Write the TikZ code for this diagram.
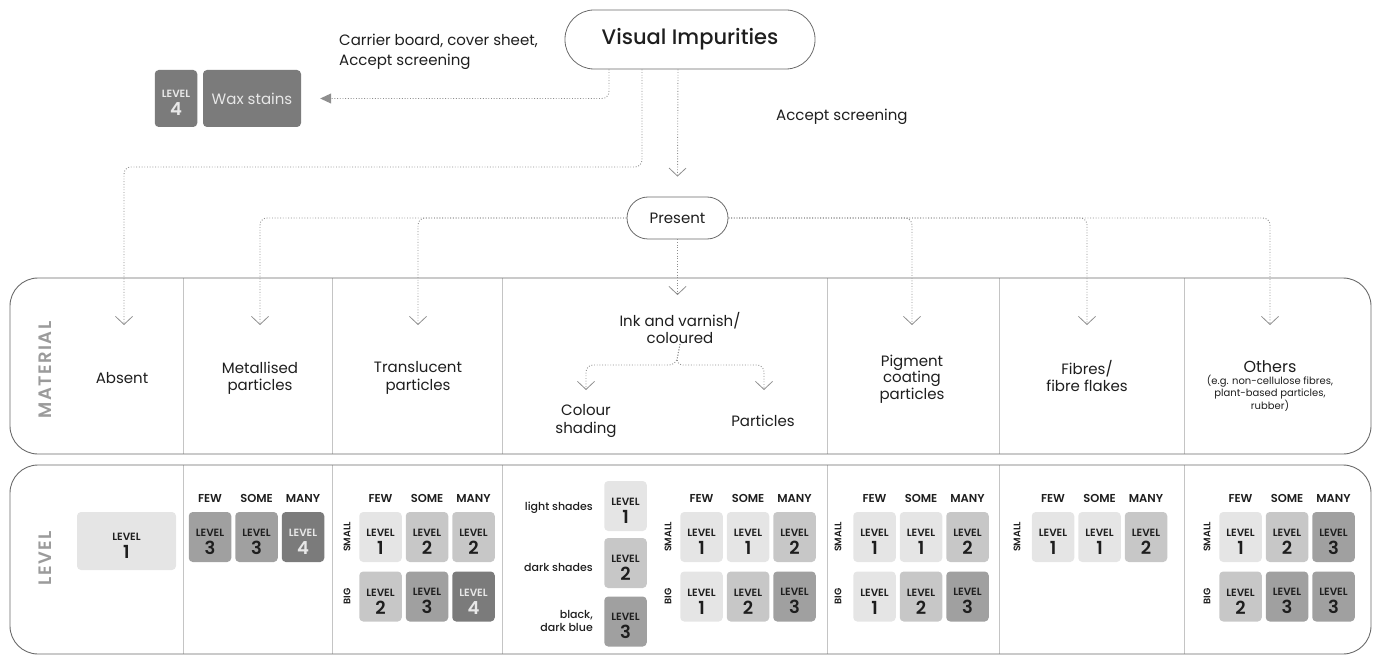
\documentclass[tikz,border=0pt]{standalone}
\usepackage{fontspec}
\setmainfont{Poppins}
\newfontfamily\medfont{Poppins Medium}
\newfontfamily\semifont{Poppins SemiBold}
\usetikzlibrary{arrows.meta}
\tikzset{>=latex}

\definecolor{ink}{HTML}{1E1E1E}
\definecolor{lvc1}{HTML}{E5E5E5}
\definecolor{lvc2}{HTML}{C7C7C7}
\definecolor{lvc3}{HTML}{A0A0A0}
\definecolor{lvc4}{HTML}{7B7B7B}
\definecolor{lvt1}{HTML}{1E1E1E}
\definecolor{lvt2}{HTML}{1E1E1E}
\definecolor{lvt3}{HTML}{1E1E1E}
\definecolor{lvt4}{HTML}{E8E8E8}
\definecolor{dots}{HTML}{8E8E8E}
\definecolor{frame}{HTML}{6A6A6A}
\definecolor{rule}{HTML}{C4C4C4}
\definecolor{tag}{HTML}{9B9B9B}

\newcommand{\lvtext}[1]{{\semifont\fontsize{10.5}{11}\selectfont\rule{0pt}{17pt}LEVEL}\\{\semifont\fontsize{18}{18}\selectfont #1}}
% one row of level boxes: name, first x, y, values
\newcommand{\lvrow}[4]{\foreach \v [count=\i] in {#4}
  \node[lvl=\v] (#1\i) at ({#2+46.5*(\i-1)},#3) {\lvtext{\v}};}
% few / some / many over a grid
\newcommand{\hdrow}[2]{\foreach \w [count=\i] in {FEW,SOME,MANY}
  \node[hd] (#1h\i) at ({#2+46.5*(\i-1)},498) {\w};}

\tikzset{
  lbl/.style={text=ink, align=center, inner sep=0pt, font=\fontsize{15}{17.5}\selectfont},
  pill/.style={lbl, draw=frame, line width=0.8pt},
  lvbox/.style={rounded corners=4pt, minimum width=42.5pt, minimum height=50pt, inner sep=0pt, align=center, font=\medfont\fontsize{15.5}{18}\selectfont},
  lvl/.style={lvbox, fill=lvc#1, text=lvt#1},
  hd/.style={text=ink, inner sep=0pt, font=\semifont\fontsize{11.5}{12}\selectfont},
  side/.style={hd, rotate=90, font=\semifont\fontsize{9.5}{9.5}\selectfont},
  tagtxt/.style={text=tag, inner sep=0pt, rotate=90, font=\semifont\fontsize{18}{18}\selectfont\addfontfeature{LetterSpace=8}},
  link/.style={draw=dots, line width=0.9pt, dash pattern=on 0.9pt off 1.8pt, rounded corners=7pt},
  vee/.style={link, -{Straight Barb[length=8pt,width=17pt,line width=0.8pt]}},
  frm/.style={draw=frame, line width=0.9pt, rounded corners=28pt},
  sep/.style={draw=rule, line width=0.9pt}
}

\begin{document}
\begin{tikzpicture}[x=1pt,y=-1pt]
\useasboundingbox (0,0) rectangle (1376,655);

% the two bands
\foreach \x in {183,332,502,827,999,1184} {
  \draw[sep] (\x,278) -- (\x,454);
  \draw[sep] (\x,465) -- (\x,654);
}
\draw[frm] (10,278) rectangle (1371,454);
\draw[frm] (10,465) rectangle (1371,654);
\node[tagtxt] (mattag) at (45,370) {MATERIAL};
\node[tagtxt] (lvtag) at (45,558) {LEVEL};

% top of the tree
\node[pill, minimum width=250pt, minimum height=59pt, rounded corners=29pt,
  font=\medfont\fontsize{21}{24}\selectfont] (vi) at (690,39.5) {Visual Impurities};
\node[lbl, anchor=west, align=left, font=\fontsize{15}{20}\selectfont] (carrier) at (339,52) {Carrier board, cover sheet,\\Accept screening};
\node[lvl=4, minimum height=57pt] (waxlv) at (176,98.5) {\lvtext{4}};
\node[lvbox, fill=lvc4, text=lvt4, minimum width=98pt, minimum height=57pt, font=\fontsize{15}{18}\selectfont] (wax) at (252,98.5) {Wax stains};
\node[lbl, anchor=west] (accept) at (776,117) {Accept screening};
\node[pill, minimum width=101pt, minimum height=42pt, rounded corners=21pt] (pr) at (677.5,218) {Present};

% material names
\node[lbl] (absent) at (122,378) {Absent};
\node[lbl] (metal) at (260,378) {Metallised\\particles};
\node[lbl] (transl) at (418,378) {Translucent\\particles};
\node[lbl] (inkc) at (680,328) {Ink and varnish/\\coloured};
\node[lbl] (colsh) at (586,421) {Colour\\shading};
\node[lbl] (partc) at (763,421) {Particles};
\node[lbl, font=\fontsize{15}{16.5}\selectfont] (pigm) at (912,379) {Pigment\\coating\\particles};
\node[lbl] (fibre) at (1087,376) {Fibres/\\fibre flakes};
\node[lbl, font=\fontsize{16}{18}\selectfont] (other) at (1270,367) {Others};
\node[lbl, font=\fontsize{10}{12.5}\selectfont] (othnote) at (1270,393) {(e.g. non-cellulose fibres,\\plant-based particles,\\rubber)};

% arrow ends
\coordinate (tAbs) at (124,325);
\coordinate (tMet) at (260,325);
\coordinate (tTra) at (418,325);
\coordinate (tInk) at (677.5,295);
\coordinate (tPig) at (912,325);
\coordinate (tFib) at (1087,325);
\coordinate (tOth) at (1270,325);
\coordinate (tCol) at (586,390);
\coordinate (tPar) at (764,390);

\draw[link, -{Triangle[length=11pt,width=10pt]}, dots] ([xshift=-81pt]vi.south) |- ([xshift=19pt]wax.east);
\draw[vee] ([xshift=-48pt]vi.south) -- (642,167) -| (tAbs);
\draw[vee] ([xshift=-12pt]vi.south) -- ([yshift=20pt]pr.north);
\draw[vee] (pr.west) -| (tMet);
\draw[vee] (pr.west) -| (tTra);
\draw[vee] (pr.south) -- (tInk);
\draw[vee] (pr.east) -| (tPig);
\draw[vee] (pr.east) -| (tFib);
\draw[vee] (pr.east) -| (tOth);
\draw[vee] (inkc.south) -- (676,365) -| (tCol);
\draw[vee] (inkc.south) -- (676,365) -| (tPar);

% levels
\node[lvl=1, minimum width=99pt, minimum height=58pt] (abs1) at (126.5,541) {\lvtext{1}};

\hdrow{met}{210}
\lvrow{met}{210}{537}{3,3,4}

\hdrow{tra}{380.5}
\node[side] (trasm) at (347,537) {SMALL};
\node[side] (trabg) at (347,596.5) {BIG};
\lvrow{tras}{380.5}{537}{1,2,2}
\lvrow{trab}{380.5}{596.5}{2,3,4}

\node[lbl, anchor=east, font=\medfont\fontsize{11}{13}\selectfont] (light) at (593,508) {light shades};
\node[lbl, anchor=east, font=\medfont\fontsize{11}{13}\selectfont] (dark) at (593,567) {dark shades};
\node[lbl, anchor=east, align=right, font=\medfont\fontsize{11}{13}\selectfont] (black) at (593,621) {black,\\dark blue};
\node[lvl=1] (sh1) at (625.5,506) {\lvtext{1}};
\node[lvl=2] (sh2) at (625.5,563) {\lvtext{2}};
\node[lvl=3] (sh3) at (625.5,621.5) {\lvtext{3}};

\hdrow{inp}{701.5}
\node[side] (inpsm) at (668,537) {SMALL};
\node[side] (inpbg) at (668,596.5) {BIG};
\lvrow{inps}{701.5}{537}{1,1,2}
\lvrow{inpb}{701.5}{596.5}{1,2,3}

\hdrow{pig}{874.5}
\node[side] (pigsm) at (838,537) {SMALL};
\node[side] (pigbg) at (838,596.5) {BIG};
\lvrow{pigs}{874.5}{537}{1,1,2}
\lvrow{pigb}{874.5}{596.5}{1,2,3}

\hdrow{fib}{1053}
\node[side] (fibsm) at (1017,537) {SMALL};
\lvrow{fibs}{1053}{537}{1,1,2}

\hdrow{oth}{1240.5}
\node[side] (othsm) at (1207,537) {SMALL};
\node[side] (othbg) at (1207,596.5) {BIG};
\lvrow{oths}{1240.5}{537}{1,2,3}
\lvrow{othb}{1240.5}{596.5}{2,3,3}
\end{tikzpicture}
\end{document}
